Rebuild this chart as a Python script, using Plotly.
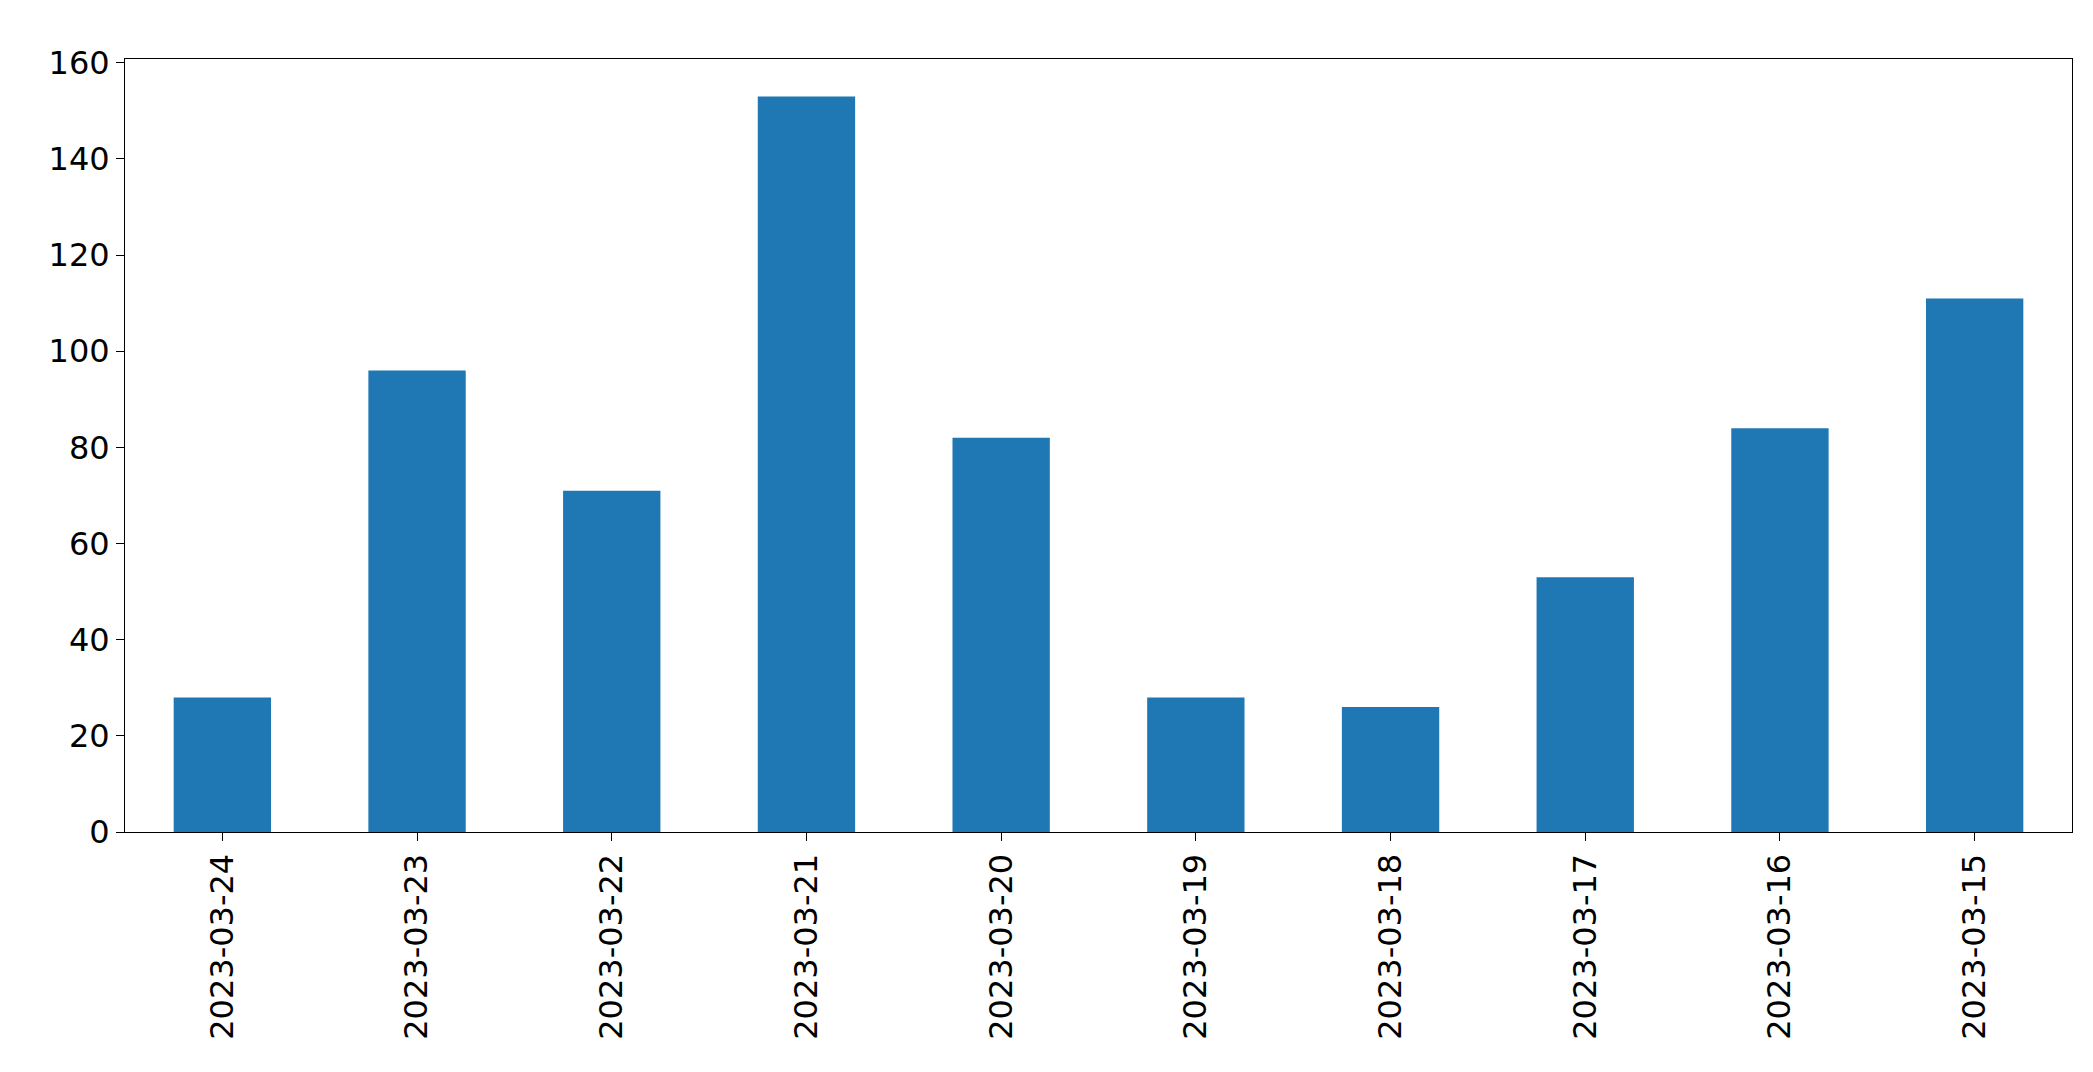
import plotly.graph_objects as go

dates = ["2023-03-24","2023-03-23","2023-03-22","2023-03-21","2023-03-20",
         "2023-03-19","2023-03-18","2023-03-17","2023-03-16","2023-03-15"]
counts = [28, 96, 71, 153, 82, 28, 26, 53, 84, 111]

fig = go.Figure(go.Bar(x=dates, y=counts, width=0.5, marker_color="#1f77b4", marker_line_width=0))
fig.update_layout(
    width=2093, height=1072, plot_bgcolor="white", paper_bgcolor="white",
    margin=dict(l=117, r=29, t=51, b=248), showlegend=False,
    font=dict(family="DejaVu Sans", size=32, color="black"),
)
fig.update_xaxes(type="category", range=[-0.5, 9.5], tickangle=-90, showline=True, linecolor="black",
                 mirror=True, ticks="outside", ticklen=8, tickcolor="black", showgrid=False)
fig.update_yaxes(range=[0, 160.8], dtick=20, showline=True, linecolor="black", mirror=True,
                 ticks="outside", ticklen=8, tickcolor="black", showgrid=False, zeroline=False)
fig.write_html("out.html")
